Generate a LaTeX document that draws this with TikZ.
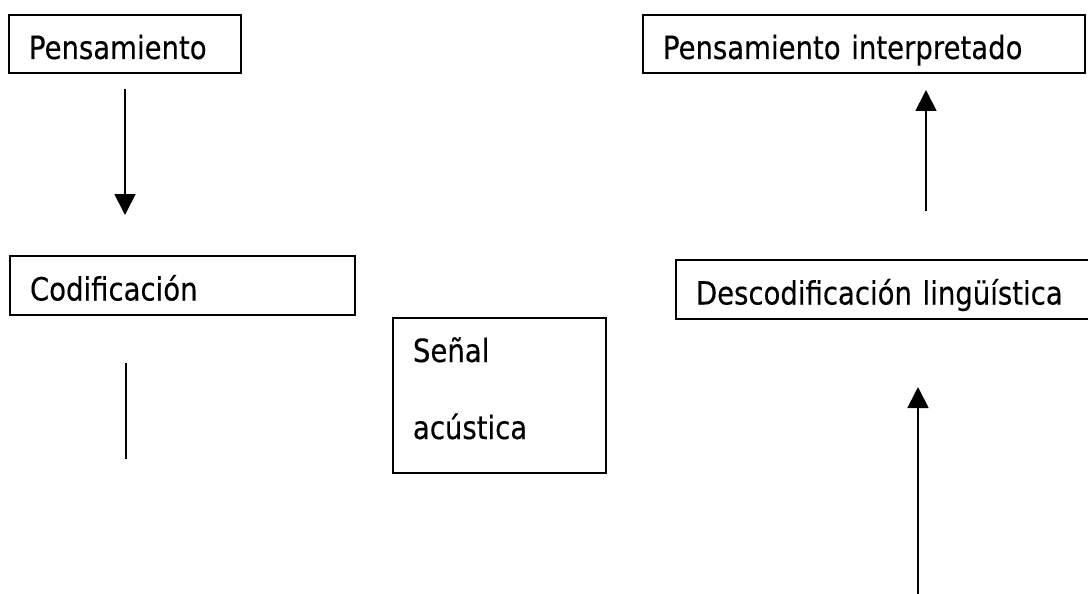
\documentclass[tikz,border=0pt]{standalone}
\usepackage{fontspec}
\setmainfont{DejaVu Sans}[FakeStretch=0.86, FakeBold=0.3]
\usetikzlibrary{arrows.meta}

\begin{document}
\begin{tikzpicture}[x=1pt,y=-1pt,
  box/.style={draw=black, line width=1.3pt, rectangle, anchor=north west,
    outer sep=0pt, inner xsep=20pt, inner ysep=0pt, align=left,
    text height=34pt, text depth=4pt,
    font=\fontsize{32}{38}\selectfont},
  arr/.style={line width=1.8pt, -{Triangle[width=21pt,length=21pt]}},
  ln/.style={line width=1.8pt}]
  \clip (0,0) rectangle (1088,594);
  \fill[white] (0,0) rectangle (1088,594);

  % boxes
  \node[box, text width=192pt, minimum height=58pt] (p)  at (9,15)    {Pensamiento};
  \node[box, text width=402pt, minimum height=58pt] (pi) at (643,15)  {Pensamiento interpretado};
  \node[box, text width=305pt, minimum height=59pt] (c)  at (10,256)  {Codificación};
  \node[box, text width=390pt, minimum height=59pt] (d)  at (676,260) {Descodificación lingüística};
  \node[box, text width=173pt, minimum height=155pt, text depth=101pt,
        execute at begin node={\setlength{\baselineskip}{77pt}}] (s) at (393,318)
        {Señal\\acústica};

  % connectors
  \draw[arr, shorten <=16pt, shorten >=41pt] (p.south) -- (p.south |- c.north);

  \coordinate (cend) at (126,459);
  \draw[ln, shorten <=48pt] (c.south -| cend) -- (cend);

  \coordinate (dup) at ([xshift=250pt]d.north west);
  \draw[arr, shorten <=49pt, shorten >=17pt] (dup) -- (dup |- pi.south);

  \coordinate (src) at (918,600);
  \draw[arr, shorten >=68pt] (src) -- (src |- d.south);
\end{tikzpicture}
\end{document}
